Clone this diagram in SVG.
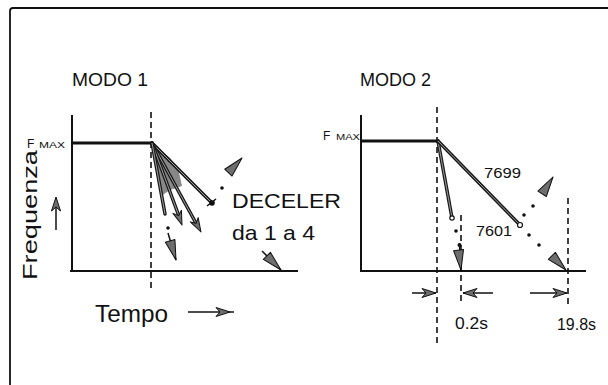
<svg xmlns="http://www.w3.org/2000/svg" xmlns:xlink="http://www.w3.org/1999/xlink" width="608" height="385" viewBox="0 0 608 385">
<style>
  text { font-family: "Liberation Sans", Arial, sans-serif; fill: #111; }
  .axis { stroke: #111; stroke-width: 2; fill: none; }
  .fmax { stroke: #111; stroke-width: 3; fill: none; }
  .curve { stroke: #1a1a1a; stroke-width: 3.5; fill: none; stroke-linecap: round; }
  .core { stroke: #9a9a9a; stroke-width: 1; fill: none; }
  .dash { stroke: #111; stroke-width: 1.6; stroke-dasharray: 6 4; fill: none; }
  .thin { stroke: #111; stroke-width: 1.5; fill: none; }
  .dot { fill: #111; }
  .ah { fill: #6e6e6e; stroke: #111; stroke-width: 1; stroke-linejoin: round; }
</style>
<defs>
  <path id="ahBig" d="M0,0 L-20,-5 L-20,5 Z"/>
  <path id="ahSmall" d="M0,0 L-14,-4.5 L-10,0 L-14,4.5 Z"/>
</defs>
<rect x="0" y="0" width="608" height="385" fill="#fff"/>

<g id="frame">
  <path d="M10,385 L10,11 Q10,8 13,8 L608,8" stroke="#111" stroke-width="1.8" fill="none"/>
</g>

<g id="mode1">
  <text x="72" y="86" font-size="18" textLength="76" lengthAdjust="spacingAndGlyphs">MODO 1</text>
  <text x="27" y="148" font-size="12">F</text>
  <text x="39" y="148" font-size="8.5" textLength="26" lengthAdjust="spacingAndGlyphs">MAX</text>
  <text transform="translate(37,280) rotate(-90)" font-size="21" textLength="130" lengthAdjust="spacingAndGlyphs">Frequenza</text>
  <text x="95" y="322" font-size="23" textLength="73" lengthAdjust="spacingAndGlyphs">Tempo</text>
  <text x="232" y="208" font-size="20" textLength="109" lengthAdjust="spacingAndGlyphs">DECELER</text>
  <text x="232" y="240" font-size="21" textLength="83" lengthAdjust="spacingAndGlyphs">da 1 a 4</text>
  <path class="axis" d="M72,115 L72,271 M70,271 L298,271"/>
  <path class="dash" d="M151,112 L151,290"/>
  <path class="fmax" d="M72,143 L152,143"/>
  <polygon points="152,143 161,196 170,190 182,186 178,168 170,158" fill="#555" opacity="0.7"/>
</g>

<g id="mode2">
  <text x="360" y="86" font-size="18" textLength="71" lengthAdjust="spacingAndGlyphs">MODO 2</text>
  <text x="323" y="140" font-size="12">F</text>
  <text x="336" y="140" font-size="8.5" textLength="24" lengthAdjust="spacingAndGlyphs">MAX</text>
  <text x="484" y="178" font-size="14" textLength="37" lengthAdjust="spacingAndGlyphs">7699</text>
  <text x="476" y="236" font-size="14" textLength="36" lengthAdjust="spacingAndGlyphs">7601</text>
  <text x="455" y="329" font-size="17" textLength="33" lengthAdjust="spacingAndGlyphs">0.2s</text>
  <text x="557" y="330" font-size="17" textLength="39" lengthAdjust="spacingAndGlyphs">19.8s</text>
  <path class="axis" d="M361,115 L361,271 M360,271 L586,271"/>
  <path class="fmax" d="M361,141 L439,141"/>
  <path class="dash" d="M437,107 L437,347"/>
  <path class="dash" d="M461,215 L461,305"/>
  <path class="dash" d="M568,198 L568,308"/>
</g>

<g id="connectors">
  <!-- mode 1 deceleration ramps -->
  <path class="curve" d="M152,143 L212,203"/>
  <path class="core" d="M152,143 L212,203"/>
  <path class="curve" d="M152,143 L197,225"/>
  <path class="core" d="M152,143 L197,225"/>
  <path class="curve" d="M152,143 L180,219"/>
  <path class="core" d="M152,143 L180,219"/>
  <path class="curve" d="M152,143 L165,214"/>
  <path class="core" d="M152,143 L165,214"/>
  <circle class="dot" cx="212" cy="203" r="2.8"/>
  <path class="thin" d="M207,206 L216,199"/>
  <circle class="dot" cx="222" cy="188" r="1.8"/>
  <use href="#ahBig" class="ah" transform="translate(242,158) rotate(-47)"/>
  <use href="#ahSmall" class="ah" transform="translate(201,232) rotate(61)"/>
  <use href="#ahSmall" class="ah" transform="translate(182,225) rotate(70)"/>
  <circle class="dot" cx="168" cy="228" r="1.8"/>
  <path class="thin" d="M168,233 L176,260"/>
  <use href="#ahBig" class="ah" transform="translate(176,260) rotate(73)"/>
  <path class="thin" d="M262,251 L281,270"/>
  <use href="#ahBig" class="ah" transform="translate(281,270) rotate(45)"/>
  <!-- axis direction arrows -->
  <path class="thin" d="M56,230 L56,198"/>
  <use href="#ahSmall" class="ah" transform="translate(56,197) rotate(-90)"/>
  <path class="thin" d="M188,312 L234,312"/>
  <use href="#ahSmall" class="ah" transform="translate(230,312)"/>

  <!-- mode 2 ramps -->
  <path class="curve" d="M438,141 L452,218"/>
  <path class="core" d="M438,141 L452,218"/>
  <path class="curve" d="M438,141 L520,225"/>
  <path class="core" d="M438,141 L520,225"/>
  <circle cx="452" cy="218" r="2.2" fill="#fff" stroke="#111" stroke-width="1.2"/>
  <circle cx="520" cy="225" r="2.5" fill="#fff" stroke="#111" stroke-width="1.2"/>
  <circle class="dot" cx="456" cy="231" r="1.8"/>
  <circle class="dot" cx="459.5" cy="245" r="2"/>
  <path class="thin" d="M459.5,245 L461,271"/>
  <use href="#ahBig" class="ah" transform="translate(461,270) rotate(83)"/>
  <circle class="dot" cx="529" cy="235" r="1.8"/>
  <circle class="dot" cx="539" cy="245" r="1.8"/>
  <use href="#ahBig" class="ah" transform="translate(566,270) rotate(45)"/>
  <circle class="dot" cx="524" cy="215" r="1.8"/>
  <circle class="dot" cx="533" cy="206" r="1.8"/>
  <use href="#ahBig" class="ah" transform="translate(553,177) rotate(-57)"/>
  <!-- dimension arrows -->
  <path class="thin" d="M412,293 L436,293"/>
  <use href="#ahSmall" class="ah" transform="translate(436,293)"/>
  <path class="thin" d="M493,293 L463,293"/>
  <use href="#ahSmall" class="ah" transform="translate(463,293) rotate(180)"/>
  <path class="thin" d="M530,293 L567,293"/>
  <use href="#ahSmall" class="ah" transform="translate(567,293)"/>
</g>
</svg>
